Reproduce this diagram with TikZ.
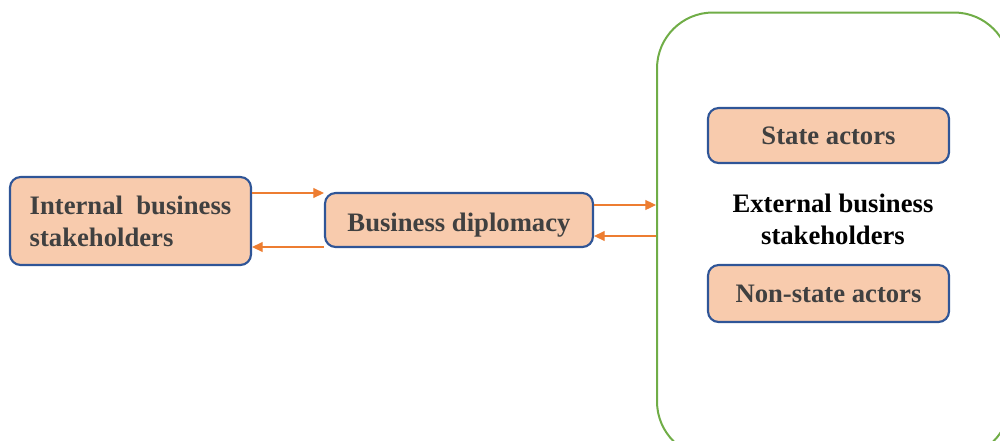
\documentclass[tikz,border=0pt]{standalone}
\usepackage{fontspec}
\setmainfont{Liberation Serif}
\usetikzlibrary{arrows.meta,calc}
\definecolor{boxfill}{HTML}{F8CBAD}
\definecolor{boxline}{HTML}{2F5597}
\definecolor{arrcol}{HTML}{ED7D31}
\definecolor{grn}{HTML}{70AD47}
\definecolor{txt}{HTML}{404040}
\def\px{0.75pt}
\tikzset{
  actor/.style={draw=boxline, fill=boxfill, line width=1.6pt, rounded corners=8pt,
    inner sep=0pt, text=txt, font=\fontsize{20}{24}\selectfont\bfseries},
  arr/.style={draw=arrcol, line width=0.9pt, -{Triangle[length=8pt,width=7.5pt]}},
  container/.style={draw=grn, line width=1.5pt, rounded corners=42pt, inner sep=0pt,
    minimum width=353*\px, minimum height=445*\px},
  lbl/.style={font=\fontsize{20}{24}\selectfont\bfseries, text=black, align=center}
}
\begin{document}
\begin{tikzpicture}[x=\px, y=-\px]
\useasboundingbox (0,0) rectangle (1000,440);
\clip (0,0) rectangle (1000,440);
\node[container] (ext) at (833.5,235) {};
\node[actor, minimum width=241*\px, minimum height=88*\px, align=left] (int) at (130.5,221) {Internal~~business\\stakeholders};
\node[actor, minimum width=268*\px, minimum height=54*\px, text height=17pt, text depth=0.5pt] (bd) at (459,220) {Business diplomacy};
\node[actor, minimum width=241*\px, minimum height=55*\px] (sa) at (828.5,135.5) {State actors};
\node[actor, minimum width=241*\px, minimum height=57*\px] (nsa) at (828.5,293.5) {Non-state actors};
\node[lbl] (extlbl) at (833,219) {External business\\stakeholders};
\draw[arr] ($(int.east)+(0,-28)$) coordinate (a1) -- (a1 -| bd.west);
\draw[arr] ($(bd.west)+(0,27)$) coordinate (a2) -- (a2 -| int.east);
\draw[arr] ($(bd.east)+(0,-15)$) coordinate (a3) -- (a3 -| ext.west);
\draw[arr] (a3 -| ext.west) ++(0,31) coordinate (a4) -- (a4 -| bd.east);
\end{tikzpicture}
\end{document}
